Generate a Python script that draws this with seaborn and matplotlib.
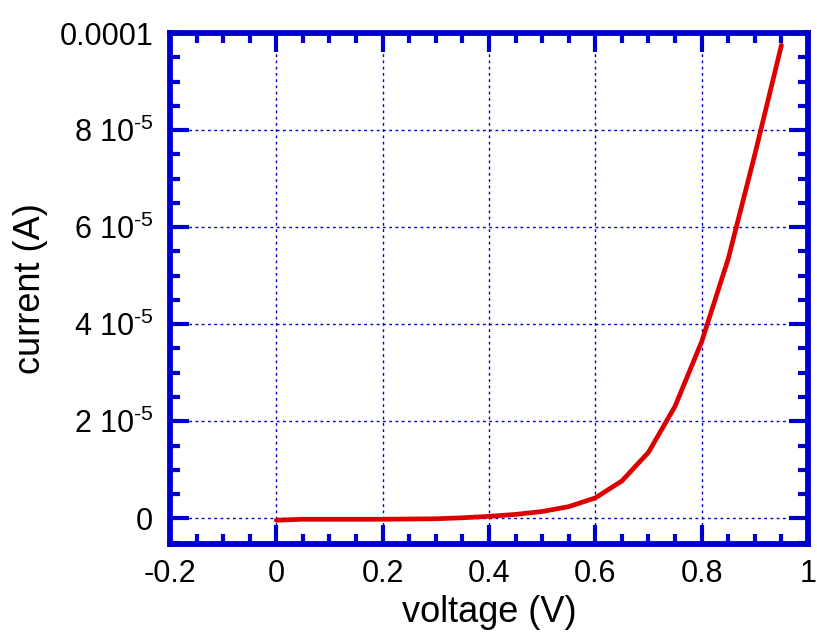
import matplotlib
matplotlib.use("Agg")
import matplotlib.pyplot as plt
import seaborn as sns
import pandas as pd
from matplotlib.ticker import MultipleLocator, FixedLocator, FuncFormatter

# Data
voltage = [0.0, 0.05, 0.10, 0.15, 0.20, 0.25, 0.30, 0.35, 0.40, 0.45,
           0.50, 0.55, 0.60, 0.65, 0.70, 0.75, 0.80, 0.85, 0.90, 0.95]
current_uA = [-0.4, -0.2, -0.2, -0.2, -0.2, -0.15, -0.1, 0.1, 0.4, 0.8,
              1.4, 2.4, 4.2, 7.7, 13.6, 23.1, 36.4, 53.5, 75.0, 97.5]
current = [c * 1e-6 for c in current_uA]

y_tick_values = [0, 2e-5, 4e-5, 6e-5, 8e-5, 1e-4]
y_tick_labels = ["0", "2 10$^{\\text{-5}}$", "4 10$^{\\text{-5}}$",
                 "6 10$^{\\text{-5}}$", "8 10$^{\\text{-5}}$", "0.0001"]
x_tick_values = [-0.2, 0, 0.2, 0.4, 0.6, 0.8, 1.0]
x_tick_labels = ["-0.2", "0", "0.2", "0.4", "0.6", "0.8", "1"]

df = pd.DataFrame({"voltage": voltage, "current": current})

sns.set_style("white")
plt.rcParams['font.family'] = ['Liberation Sans', 'DejaVu Sans']
plt.rcParams['mathtext.fontset'] = 'custom'
plt.rcParams['mathtext.rm'] = 'Liberation Sans'
plt.rcParams['text.color'] = 'black'
plt.rcParams['axes.labelcolor'] = 'black'
plt.rcParams['xtick.labelcolor'] = 'black'
plt.rcParams['ytick.labelcolor'] = 'black'

blue = "#0000cc"
fig = plt.figure(figsize=(8.17, 6.37), dpi=100)
ax = fig.add_axes([0.208, 0.146, 0.781, 0.802])

sns.lineplot(data=df, x="voltage", y="current", ax=ax, color="#dd0000",
             linewidth=3.4, zorder=5)

ax.set_xlim(-0.2, 1.0)
ax.set_ylim(-5.3e-6, 1e-4)

ax.xaxis.set_major_locator(FixedLocator(x_tick_values))
ax.xaxis.set_major_formatter(FuncFormatter(
    lambda v, p: x_tick_labels[min(range(len(x_tick_values)), key=lambda i: abs(x_tick_values[i] - v))]))
ax.xaxis.set_minor_locator(MultipleLocator(0.05))
ax.yaxis.set_major_locator(FixedLocator(y_tick_values))
ax.yaxis.set_major_formatter(FuncFormatter(
    lambda v, p: y_tick_labels[min(range(len(y_tick_values)), key=lambda i: abs(y_tick_values[i] - v))]))
ax.yaxis.set_minor_locator(MultipleLocator(5e-6))

for s in ax.spines.values():
    s.set_color(blue)
    s.set_linewidth(4.2)
    s.set_visible(True)

ax.tick_params(which="both", direction="in", top=True, right=True,
               bottom=True, left=True, color=blue)
ax.tick_params(which="major", length=14, width=3, labelsize=22, labelcolor="black")
ax.tick_params(axis="x", which="major", pad=11)
ax.tick_params(axis="y", which="major", pad=12)
ax.tick_params(which="minor", length=7.5, width=3)

ax.grid(True, which="major", color=blue, linestyle=(0, (2, 2.5)), linewidth=1.0)
ax.set_axisbelow(True)

ax.set_xlabel("voltage (V)", fontsize=26, labelpad=4, color="black")
ax.set_ylabel("current (A)", fontsize=26, labelpad=8, color="black")

fig.savefig("out.png", dpi=100)
